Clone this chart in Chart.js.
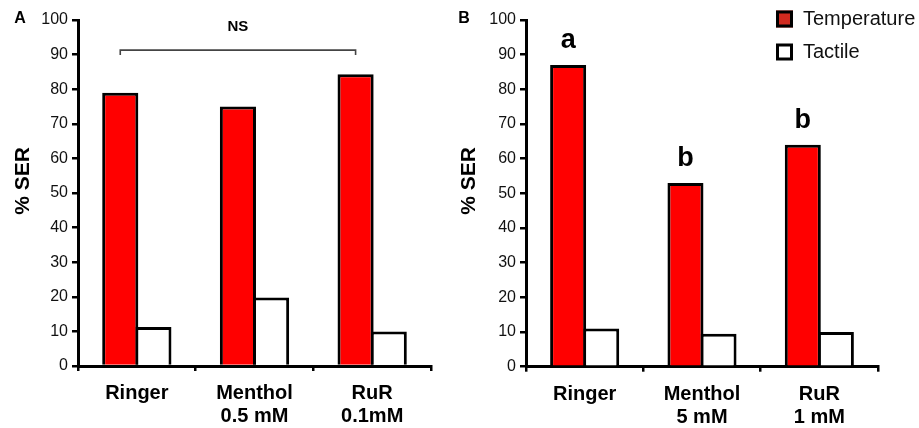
<!DOCTYPE html>
<html>
<head>
<meta charset="utf-8">
<script src="https://cdn.jsdelivr.net/npm/chart.js@4.4.1/dist/chart.umd.min.js"></script>
<style>
  html, body { margin: 0; padding: 0; background: #fff; }
  #wrap { position: relative; width: 919px; height: 428px; overflow: hidden; }
  #pa { position: absolute; left: 0; top: 0; }
  #pb { position: absolute; left: 455px; top: 0; }
</style>
</head>
<body>
<div id="wrap">
  <canvas id="pa" width="455" height="428"></canvas>
  <canvas id="pb" width="464" height="428"></canvas>
</div>
<script>
// ---- data ----
const categoriesA = [['Ringer'], ['Menthol', '0.5 mM'], ['RuR', '0.1mM']];
const categoriesB = [['Ringer'], ['Menthol', '5 mM'], ['RuR', '1 mM']];
const seriesLabels = ['Temperature', 'Tactile'];
const temperatureA = [79, 75, 84.3];
const tactileA = [11.3, 19.8, 10];
const temperatureB = [87, 53, 64];
const tactileB = [11, 9.5, 10];
const yTickValues = [0, 10, 20, 30, 40, 50, 60, 70, 80, 90, 100];
const yTitle = '% SER';
const panelLabels = ['A', 'B'];
const nsLabel = 'NS';
const nsLevel = 91.3;
const lettersB = ['a', 'b', 'b'];

// ---- styles ----
const RED = '#ff0000';
const LEGEND_RED = '#d22a1f';
const INK = '#000';
const FONT = 'Liberation Sans, Arial, Helvetica, sans-serif';

function makeDatasets(temp, tact) {
  const common = { borderColor: INK, borderWidth: 3, borderSkipped: 'start', categoryPercentage: 0.5635, barPercentage: 1.09 };
  return [
    Object.assign({ label: seriesLabels[0], data: temp, backgroundColor: RED }, common),
    Object.assign({ label: seriesLabels[1], data: tact, backgroundColor: '#fff' }, common)
  ];
}

function drawRotTitle(ctx, x, y) {
  ctx.save();
  ctx.translate(x, y);
  ctx.rotate(-Math.PI / 2);
  ctx.font = 'bold 21px ' + FONT;
  ctx.fillStyle = INK;
  ctx.textAlign = 'center';
  ctx.textBaseline = 'middle';
  ctx.fillText(yTitle, 0, 0);
  ctx.restore();
}

function drawPanelLabel(ctx, text, x, y) {
  ctx.save();
  ctx.font = 'bold 16px ' + FONT;
  ctx.fillStyle = INK;
  ctx.textAlign = 'center';
  ctx.textBaseline = 'middle';
  ctx.fillText(text, x, y);
  ctx.restore();
}

const panelAPlugin = {
  id: 'panelA',
  afterDraw(chart) {
    const ctx = chart.ctx;
    drawPanelLabel(ctx, panelLabels[0], 20, 19);
    drawRotTitle(ctx, 23, 181);
    const meta = chart.getDatasetMeta(0);
    const x1 = meta.data[0].x;
    const x2 = meta.data[2].x;
    const yy = chart.scales.y.getPixelForValue(nsLevel);
    ctx.save();
    ctx.strokeStyle = '#444';
    ctx.lineWidth = 1.6;
    ctx.beginPath();
    ctx.moveTo(x1, yy + 5);
    ctx.lineTo(x1, yy);
    ctx.lineTo(x2, yy);
    ctx.lineTo(x2, yy + 5);
    ctx.stroke();
    ctx.font = 'bold 15px ' + FONT;
    ctx.fillStyle = INK;
    ctx.textAlign = 'center';
    ctx.textBaseline = 'middle';
    ctx.fillText(nsLabel, (x1 + x2) / 2, yy - 23);
    ctx.restore();
  }
};

const panelBPlugin = {
  id: 'panelB',
  afterDraw(chart) {
    const ctx = chart.ctx;
    drawPanelLabel(ctx, panelLabels[1], 9, 19);
    drawRotTitle(ctx, 14, 181);
    const meta = chart.getDatasetMeta(0);
    ctx.save();
    ctx.font = 'bold 27px ' + FONT;
    ctx.fillStyle = INK;
    ctx.textAlign = 'center';
    ctx.textBaseline = 'alphabetic';
    meta.data.forEach((bar, i) => {
      ctx.fillText(lettersB[i], bar.x, bar.y - 17);
    });
    ctx.restore();
    // legend
    const items = chart.data.datasets;
    const fills = [LEGEND_RED, '#fff'];
    const boxX = 321, boxW = 17, boxH = 17;
    const centers = [19, 52];
    ctx.save();
    items.forEach((ds, i) => {
      const cy = centers[i];
      ctx.fillStyle = fills[i];
      ctx.fillRect(boxX, cy - boxH / 2, boxW, boxH);
      ctx.lineWidth = 3;
      ctx.strokeStyle = INK;
      ctx.strokeRect(boxX + 1.5, cy - boxH / 2 + 1.5, boxW - 3, boxH - 3);
      ctx.font = '20px ' + FONT;
      ctx.fillStyle = '#111';
      ctx.textAlign = 'left';
      ctx.textBaseline = 'middle';
      ctx.fillText(ds.label, 348, cy);
    });
    ctx.restore();
  }
};

function makeOptions(yWidth, padRight, xHeight) {
  return {
    responsive: false,
    animation: false,
    devicePixelRatio: 1,
    layout: { padding: { left: 0, right: padRight, top: 20, bottom: 0 } },
    plugins: { legend: { display: false }, tooltip: { enabled: false } },
    scales: {
      x: {
        type: 'category',
        offset: true,
        grid: { offset: true, drawOnChartArea: false, color: INK, lineWidth: 2.5, tickLength: 5, tickWidth: 2.5 },
        border: { display: true, color: INK, width: 3 },
        ticks: { color: INK, font: { family: FONT, size: 20, weight: 'bold', lineHeight: 1.15 }, padding: 11, maxRotation: 0, autoSkip: false },
        afterFit(scale) { scale.height = xHeight; }
      },
      y: {
        min: 0, max: 100,
        afterBuildTicks(scale) { scale.ticks = yTickValues.map(v => ({ value: v })); },
        grid: { drawOnChartArea: false, color: INK, lineWidth: 2.5, tickLength: 6, tickWidth: 2.5 },
        border: { display: true, color: INK, width: 3 },
        ticks: { color: '#111', font: { family: FONT, size: 16 }, padding: 4 },
        afterFit(scale) { scale.width = yWidth; }
      }
    }
  };
}

new Chart(document.getElementById('pa'), {
  type: 'bar',
  data: { labels: categoriesA, datasets: makeDatasets(temperatureA, tactileA) },
  options: makeOptions(78, 24, 62),
  plugins: [panelAPlugin]
});

new Chart(document.getElementById('pb'), {
  type: 'bar',
  data: { labels: categoriesB, datasets: makeDatasets(temperatureB, tactileB) },
  options: makeOptions(71, 41, 61.3),
  plugins: [panelBPlugin]
});
</script>
</body>
</html>
